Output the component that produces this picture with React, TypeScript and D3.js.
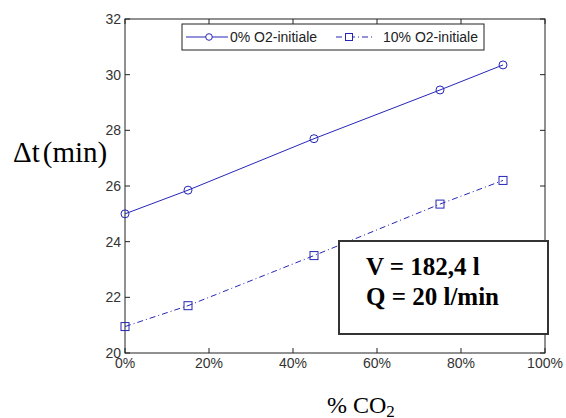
import React from "react";
import * as d3 from "d3";

const co2 = [0, 15, 45, 75, 90];
const series0 = [25.0, 25.85, 27.7, 29.45, 30.35];
const series10 = [20.95, 21.7, 23.5, 25.35, 26.2];
const xTicks = [0, 20, 40, 60, 80, 100];
const yTicks = [20, 22, 24, 26, 28, 30, 32];
const legendLabels = ["0% O2-initiale", "10% O2-initiale"];
const noteLines = ["V = 182,4 l", "Q = 20 l/min"];

export default function App() {
  const W = 566, H = 418;
  const L = 125, R = 545, T = 19, B = 353;
  const x = d3.scaleLinear().domain([0, 100]).range([L, R]);
  const y = d3.scaleLinear().domain([20, 32]).range([B, T]);
  const line = d3.line<number>().x((_, i) => x(co2[i])).y((d) => y(d));
  const col = "#2626b8";
  const tickFont = "'Liberation Sans', Arial, sans-serif";
  const serif = "'Liberation Serif', 'Times New Roman', serif";
  return (
    <svg width={W} height={H} style={{ position: "absolute", left: 0, top: 0, background: "#fff" }}>
      <rect x={0} y={0} width={W} height={H} fill="#fff" />
      {xTicks.map((t) => (
        <g key={"x" + t}>
          <line x1={x(t)} x2={x(t)} y1={B} y2={B - 5} stroke="#222" />
          <line x1={x(t)} x2={x(t)} y1={T} y2={T + 5} stroke="#222" />
          <text x={x(t)} y={368} textAnchor="middle" fontFamily={tickFont} fontSize={14} fill="#333">{t + "%"}</text>
        </g>
      ))}
      {yTicks.map((t) => (
        <g key={"y" + t}>
          <line x1={L} x2={L + 5} y1={y(t)} y2={y(t)} stroke="#222" />
          <line x1={R} x2={R - 5} y1={y(t)} y2={y(t)} stroke="#222" />
          <text x={121} y={y(t) + 5} textAnchor="end" fontFamily={tickFont} fontSize={14} fill="#333">{t}</text>
        </g>
      ))}
      <rect x={L} y={T} width={R - L} height={B - T} fill="none" stroke="#222" />
      <path d={line(series0) || ""} fill="none" stroke={col} strokeWidth={1} />
      <path d={line(series10) || ""} fill="none" stroke={col} strokeWidth={1} strokeDasharray="6,3,1,3" />
      {series0.map((v, i) => (
        <circle key={"c" + i} cx={x(co2[i])} cy={y(v)} r={4} fill="none" stroke={col} />
      ))}
      {series10.map((v, i) => (
        <rect key={"s" + i} x={x(co2[i]) - 4} y={y(v) - 4} width={8} height={8} fill="none" stroke={col} />
      ))}
      <rect x={182} y={24} width={302} height={26} fill="#fff" stroke="#222" />
      <line x1={186} x2={228} y1={37} y2={37} stroke={col} />
      <circle cx={209} cy={37} r={3.3} fill="#fff" stroke={col} />
      <text x={230} y={42} fontFamily={tickFont} fontSize={14} fill="#222">{legendLabels[0]}</text>
      <line x1={336} x2={374} y1={37} y2={37} stroke={col} strokeDasharray="6,3,1,3" />
      <rect x={345.5} y={33.5} width={7} height={7} fill="#fff" stroke={col} />
      <text x={383} y={42} fontFamily={tickFont} fontSize={14} fill="#222">{legendLabels[1]}</text>
      <rect x={339} y={241} width={209} height={93} fill="#fff" stroke="#333" strokeWidth={2} />
      <text x={366} y={275} fontFamily={serif} fontWeight="bold" fontSize={25} fill="#000">{noteLines[0]}</text>
      <text x={366} y={305} fontFamily={serif} fontWeight="bold" fontSize={25} fill="#000">{noteLines[1]}</text>
      <text x={13} y={162} fontFamily={serif} fontSize={29} fill="#000">
        Δt<tspan dx={3}>(min)</tspan>
      </text>
      <text x={327} y={413} fontFamily={serif} fontSize={24} fill="#000">
        % CO<tspan fontSize={17} dy={4}>2</tspan>
      </text>
    </svg>
  );
}
